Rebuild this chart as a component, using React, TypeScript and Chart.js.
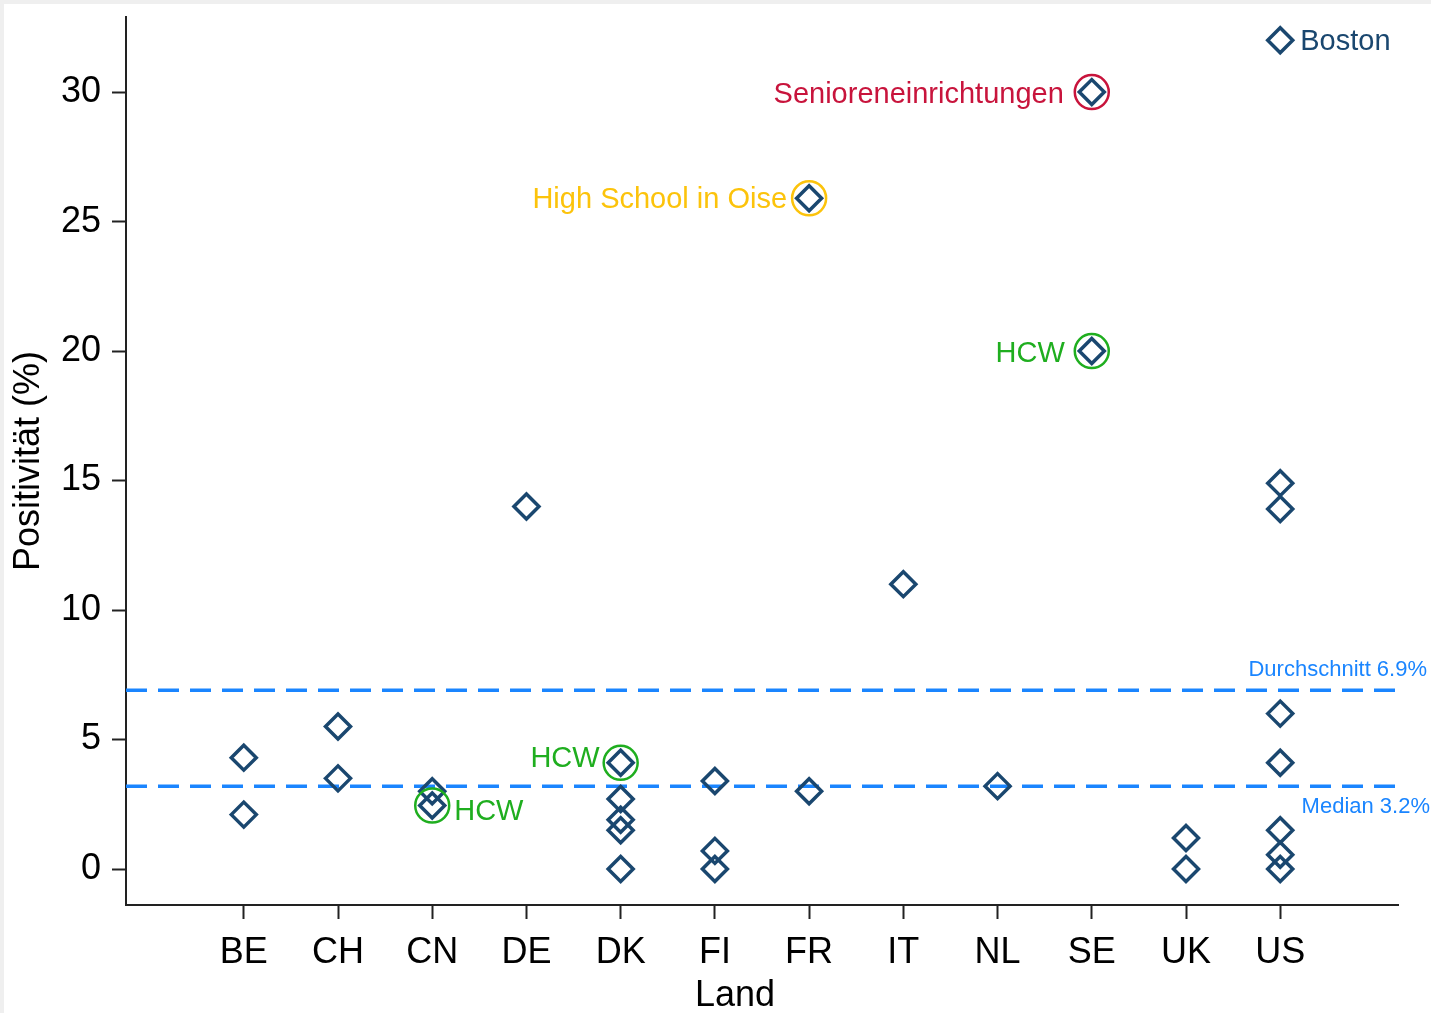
import { useEffect, useRef } from 'react';
import { Chart, registerables } from 'chart.js';

Chart.register(...registerables);

// ---------- data ----------
const countries = ['BE', 'CH', 'CN', 'DE', 'DK', 'FI', 'FR', 'IT', 'NL', 'SE', 'UK', 'US'];

const studyCountry = [
  0, 0,
  1, 1,
  2, 2,
  3,
  4, 4, 4, 4, 4,
  5, 5, 5,
  6, 6,
  7,
  8,
  9, 9,
  10, 10,
  11, 11, 11, 11, 11, 11, 11, 11,
];
const studyPositivity = [
  4.3, 2.1,
  5.5, 3.5,
  3.0, 2.45,
  14.0,
  4.1, 2.7, 1.9, 1.5, 0.0,
  3.4, 0.7, 0.0,
  25.9, 3.0,
  11.0,
  3.2,
  30.0, 20.0,
  1.2, 0.0,
  32.0, 14.9, 13.9, 6.0, 4.1, 1.5, 0.55, 0.0,
];

const meanValue = 6.9;
const medianValue = 3.2;
const meanLabel = 'Durchschnitt 6.9%';
const medianLabel = 'Median 3.2%';
const xTitle = 'Land';
const yTitle = 'Positivität (%)';

const yTicks = [0, 5, 10, 15, 20, 25, 30];

// circled (highlighted) studies
const redCountry = [9];
const redValue = [30.0];
const goldCountry = [6];
const goldValue = [25.9];
const greenCountry = [9, 4, 2];
const greenValue = [20.0, 4.1, 2.45];

// text annotations
const labelTexts = ['Boston', 'Senioreneinrichtungen', 'High School in Oise', 'HCW', 'HCW', 'HCW'];
const labelCountry = [11, 9, 6, 9, 4, 2];
const labelValue = [32.0, 30.0, 25.9, 20.0, 4.1, 2.45];

// ---------- styles ----------
const NAVY = '#1a476f';
const RED = '#c8143c';
const GOLD = '#fcc30b';
const GREEN = '#1fae1f';
const BLUE = '#1a85ff';
const FONT = "'Liberation Sans', Arial, Helvetica, sans-serif";

const labelStyles = [
  { color: NAVY, align: 'left', dx: 20, dy: 2 },
  { color: RED, align: 'right', dx: -28, dy: 3 },
  { color: GOLD, align: 'right', dx: -22, dy: 2 },
  { color: GREEN, align: 'right', dx: -27, dy: 3 },
  { color: GREEN, align: 'right', dx: -21, dy: -4 },
  { color: GREEN, align: 'left', dx: 22, dy: 6 },
];

const pts = (xs: number[], ys: number[]) => xs.map((x, i) => ({ x, y: ys[i] }));

const annotationPlugin = {
  id: 'annotations',
  afterDatasetsDraw(chart: any) {
    const { ctx, scales } = chart;
    const xs = scales.x;
    const ys = scales.y;
    ctx.save();
    ctx.textBaseline = 'middle';
    ctx.font = `29px ${FONT}`;
    labelTexts.forEach((t, i) => {
      const st = labelStyles[i];
      const px = xs.getPixelForValue(labelCountry[i]) + st.dx;
      const py = ys.getPixelForValue(labelValue[i]) + st.dy;
      ctx.fillStyle = st.color;
      ctx.textAlign = st.align;
      ctx.fillText(t, px, py);
    });
    ctx.font = `22px ${FONT}`;
    ctx.fillStyle = BLUE;
    ctx.textAlign = 'right';
    ctx.fillText(meanLabel, chart.width - 4, ys.getPixelForValue(meanValue) - 20);
    ctx.fillText(medianLabel, chart.width - 1, ys.getPixelForValue(medianValue) + 21);
    // x-axis title (sits slightly left of the plot-area centre in the original)
    ctx.font = `36px ${FONT}`;
    ctx.fillStyle = '#000';
    ctx.textAlign = 'center';
    ctx.fillText(xTitle, (chart.chartArea.left + chart.chartArea.right) / 2 - 27, xs.bottom - 17);
    ctx.restore();
  },
};

export default function App() {
  const ref = useRef<HTMLCanvasElement | null>(null);

  useEffect(() => {
    document.body.style.margin = '0';
    document.body.style.overflow = 'hidden';
    const canvas = ref.current;
    if (!canvas) return;

    const circleDs = (label: string, xs: number[], ysv: number[], color: string) => ({
      type: 'scatter' as const,
      label,
      data: pts(xs, ysv),
      pointStyle: 'circle',
      pointRadius: 17,
      pointBorderWidth: 2.5,
      pointBorderColor: color,
      pointBackgroundColor: 'rgba(0,0,0,0)',
      order: 1,
    });

    const lineDs = (label: string, v: number) => ({
      type: 'line' as const,
      label,
      data: [
        { x: -1.25, y: v },
        { x: 12.25, y: v },
      ],
      borderColor: BLUE,
      borderWidth: 3.5,
      borderDash: [21, 11],
      pointRadius: 0,
      fill: false,
      order: 3,
    });

    const chart = new Chart(canvas, {
      type: 'scatter',
      data: {
        datasets: [
          lineDs('Durchschnitt', meanValue),
          lineDs('Median', medianValue),
          {
            type: 'scatter',
            label: 'Studien',
            data: pts(studyCountry, studyPositivity),
            pointStyle: 'rectRot',
            pointRadius: 12.5,
            pointBorderWidth: 3.5,
            pointBorderColor: NAVY,
            pointBackgroundColor: 'rgba(0,0,0,0)',
            order: 2,
          } as any,
          circleDs('Senioreneinrichtungen', redCountry, redValue, RED),
          circleDs('High School', goldCountry, goldValue, GOLD),
          circleDs('HCW', greenCountry, greenValue, GREEN),
        ],
      },
      options: {
        responsive: false,
        animation: false,
        events: [],
        layout: { autoPadding: false, padding: { left: 0, top: 13, right: 33, bottom: 0 } },
        plugins: {
          legend: { display: false },
          tooltip: { enabled: false },
        },
        scales: {
          x: {
            type: 'linear',
            min: -1.25,
            max: 12.25,
            afterBuildTicks: (s: any) => {
              s.ticks = countries.map((_, i) => ({ value: i }));
            },
            afterFit: (s: any) => {
              s.height = 108;
              s.paddingLeft = 0;
              s.paddingRight = 0;
            },
            ticks: {
              autoSkip: false,
              maxRotation: 0,
              padding: 12,
              color: '#000',
              font: { family: FONT, size: 36 },
              callback: (v: any) => countries[Math.round(Number(v))] ?? '',
            },
            grid: {
              drawOnChartArea: false,
              drawTicks: true,
              tickLength: 14,
              tickWidth: 2,
              tickColor: '#222',
            },
            border: { display: true, color: '#222', width: 2 },
            title: { display: false },
          },
          y: {
            type: 'linear',
            min: -1.39,
            max: 32.9,
            afterBuildTicks: (s: any) => {
              s.ticks = yTicks.map((v) => ({ value: v }));
            },
            afterFit: (s: any) => {
              s.width = 122;
              s.paddingTop = 0;
              s.paddingBottom = 0;
            },
            ticks: {
              padding: 11,
              color: '#000',
              font: { family: FONT, size: 36 },
              callback: (v: any) => String(v),
            },
            grid: {
              drawOnChartArea: false,
              drawTicks: true,
              tickLength: 14,
              tickWidth: 2,
              tickColor: '#222',
            },
            border: { display: true, color: '#222', width: 2 },
            title: {
              display: true,
              text: yTitle,
              color: '#000',
              font: { family: FONT, size: 36, lineHeight: 1 },
              padding: { top: 7, bottom: 0 },
            },
          },
        },
      } as any,
      plugins: [annotationPlugin],
    });

    return () => chart.destroy();
  }, []);

  return (
    <div
      style={{
        width: 1431,
        height: 1013,
        boxSizing: 'border-box',
        paddingTop: 4,
        paddingLeft: 4,
        background: '#efefef',
        overflow: 'hidden',
      }}
    >
      <div style={{ width: 1427, height: 1009, background: '#fff' }}>
        <canvas ref={ref} width={1427} height={1009} style={{ display: 'block' }} />
      </div>
    </div>
  );
}
